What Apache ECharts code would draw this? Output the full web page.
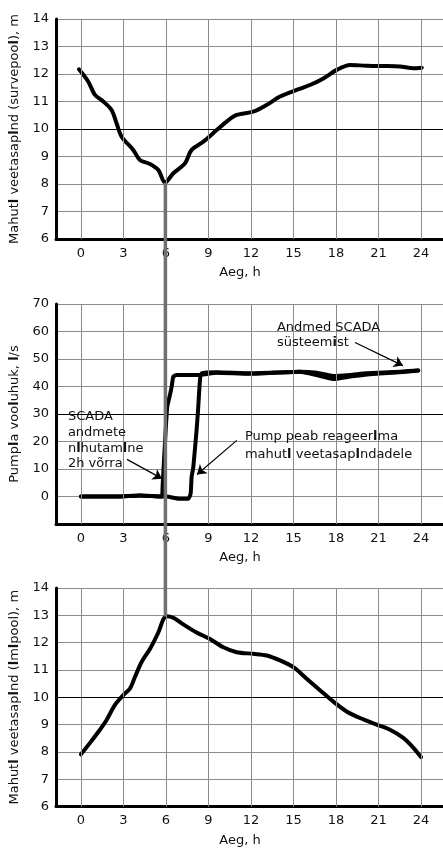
<!DOCTYPE html>
<html><head><meta charset="utf-8">
<script src="https://cdn.jsdelivr.net/npm/echarts@6/dist/echarts.min.js"></script>
<style>html,body{margin:0;padding:0;background:#fff}#c{width:443px;height:848px}</style>
</head><body><div id="c"></div>
<script>
// ---- data ----
const xTicks = [0, 3, 6, 9, 12, 15, 18, 21, 24];
const xTitle = 'Aeg, h';

const topHours = [-0.14,0.52,0.99,1.58,2.16,2.52,2.87,3.69,4.16,4.87,5.46,5.93,6.52,7.34,7.81,8.64,9.58,10.28,10.99,12.16,13.09,14.05,15.22,16.16,17.11,18.05,18.99,20.16,21.34,22.52,23.46,24.05];
const topLevels = [12.17,11.72,11.24,11.0,10.69,10.2,9.72,9.24,8.87,8.73,8.51,8.05,8.39,8.75,9.24,9.54,9.96,10.27,10.51,10.63,10.87,11.18,11.42,11.6,11.84,12.15,12.33,12.3,12.29,12.27,12.21,12.23];

const shiftHours = [0,2.52,4.16,5.69,5.76,5.86,5.98,6.09,6.28,6.4,6.52,6.75,8.4,9.58,11.9,15.46,16.6,17.8,19,20.2,22.5,23.8];
const shiftFlow = [0,0,0.4,0,3.4,13.1,24.1,32.6,36.9,39.9,43.6,44.2,44.2,45,44.6,45.4,44.2,42.7,43.6,44.4,45.2,45.8];

const pumpHours = [0,2.52,4.16,5.69,6.05,6.99,7.58,7.74,7.81,7.93,8.16,8.28,8.4,8.52,9.58,11.93,15.46,16.64,17.81,19,20.16,22.52,23.81];
const pumpFlow = [0,0,0.4,0,0,-0.85,-0.85,1,7.1,10.7,24.1,32.6,42.4,44.8,45.2,44.8,45.4,45,43.8,44.2,44.8,45.4,45.8];

const botHours = [0,0.64,1.34,1.81,2.4,2.99,3.46,3.81,4.28,4.87,5.46,5.81,6.05,6.52,7.22,8.16,9.11,10.05,10.99,12.16,13.11,14.05,14.99,15.93,16.87,17.81,18.75,19.69,20.87,21.81,22.75,23.46,24];
const botLevels = [7.91,8.33,8.81,9.17,9.72,10.08,10.32,10.74,11.29,11.77,12.37,12.85,12.97,12.91,12.67,12.37,12.13,11.83,11.65,11.59,11.53,11.35,11.1,10.68,10.26,9.84,9.48,9.24,9.0,8.81,8.51,8.15,7.81];

const topTitle = 'Mahut{b|l} veetasap{b|l}nd (survepoo{b|l}), m';
const midTitle = 'Pump{b|l}a voo{b|l}uhuk, {b|l}/s';
const botTitle = 'Mahut{b|l} veetasap{b|l}nd ({b|l}m{b|l}pool), m';

const darkLines = [10, 30, 10];

const noteLines = [
  ['SCADA', 'andmete', 'n{b|l}hutam{b|l}ne', '2h võrra'],
  ['Pump peab reageer{b|l}ma', 'mahut{b|l} veetasap{b|l}ndadele'],
  ['Andmed SCADA', 'süsteem{b|i}st']
];
const noteAnchors = [[-0.92, 29.0], [11.57, 21.8], [13.83, 61.5]];
const noteSpacing = [15.7, 18, 15];
const arrows = [
  [[3.25, 13.5], [5.72, 6.5]],
  [[11.0, 20.4], [8.19, 8.0]],
  [[19.34, 56], [22.72, 47.6]]
];

const connectorHour = 5.96, connectorTop = 8.05, connectorBottom = 12.96;

// ---- chart ----
const FONT = 'DejaVu Sans';
const zip = (a, b) => a.map((v, i) => [v, b[i]]);
const grids = [
  {left: 56, right: 0, top: 19, height: 220},
  {left: 56, right: 0, top: 304, height: 220},
  {left: 56, right: 0, top: 588, height: 220}
];
function xAxis(i) {
  return {
    type: 'value', gridIndex: i, min: -1.76, max: 25.55,
    name: xTitle, nameLocation: 'middle', nameGap: 27.5,
    nameTextStyle: {fontFamily: FONT, fontSize: 13, color: '#111', padding: [0, 19, 0, 0]},
    axisLine: {show: true, onZero: false, lineStyle: {color: '#000', width: 3}},
    axisTick: {show: false, customValues: xTicks},
    axisLabel: {customValues: xTicks, fontFamily: FONT, fontSize: 13, color: '#111', margin: 8},
    splitLine: {show: false}
  };
}
function yAxis(i, min, max, step, title) {
  return {
    type: 'value', gridIndex: i, min: min, max: max, interval: step,
    name: title, nameLocation: 'middle', nameGap: 32,
    nameTextStyle: {fontFamily: FONT, fontSize: 13, color: '#111',
      rich: {b: {fontFamily: FONT, fontSize: 13, fontWeight: 'bold', color: '#111'}}},
    axisLine: {show: true, onZero: false, lineStyle: {color: '#000', width: 3}},
    axisTick: {show: false},
    axisLabel: {fontFamily: FONT, fontSize: 13, color: '#111', margin: 7,
      formatter: v => (i === 1 && v < 0) ? '' : String(v)},
    splitLine: {show: true, lineStyle: {color: '#8c8c8c', width: 1}}
  };
}
const lineStyle = {color: '#000', width: 4, cap: 'round', join: 'round'};
function gridSeries(i) {
  return {type: 'line', xAxisIndex: i, yAxisIndex: i, data: [], z: 1, silent: true,
    markLine: {silent: true, symbol: 'none', label: {show: false}, animation: false,
      data: xTicks.map(v => ({xAxis: v, lineStyle: {color: '#8c8c8c', width: 1, type: 'solid'}}))
        .concat([{yAxis: darkLines[i], lineStyle: {color: '#000', width: 1, type: 'solid'}}])}};
}
const option = {
  animation: false,
  backgroundColor: '#fff',
  grid: grids,
  xAxis: [xAxis(0), xAxis(1), xAxis(2)],
  yAxis: [yAxis(0, 6, 14, 1, topTitle), yAxis(1, -10, 70, 10, midTitle), yAxis(2, 6, 14, 1, botTitle)],
  series: [
    gridSeries(0), gridSeries(1), gridSeries(2),
    {type: 'line', xAxisIndex: 0, yAxisIndex: 0, data: zip(topHours, topLevels), showSymbol: false,
      smooth: 0.3, lineStyle, z: 3},
    {type: 'line', xAxisIndex: 1, yAxisIndex: 1, data: zip(shiftHours, shiftFlow), showSymbol: false,
      smooth: 0.15, lineStyle, z: 3},
    {type: 'line', xAxisIndex: 1, yAxisIndex: 1, data: zip(pumpHours, pumpFlow), showSymbol: false,
      smooth: 0.15, lineStyle, z: 3,
      markLine: {silent: true, symbol: ['none', 'arrow'], symbolSize: 9, label: {show: false},
        lineStyle: {color: '#000', width: 1.2, type: 'solid'},
        data: arrows.map(a => [{coord: a[0]}, {coord: a[1]}])}},
    {type: 'line', xAxisIndex: 2, yAxisIndex: 2, data: zip(botHours, botLevels), showSymbol: false,
      smooth: 0.3, lineStyle, z: 3}
  ]
};
const chart = echarts.init(document.getElementById('c'), null, {renderer: 'canvas'});
chart.setOption(option);
const p1 = chart.convertToPixel({gridIndex: 0}, [connectorHour, connectorTop]);
const p2 = chart.convertToPixel({gridIndex: 2}, [connectorHour, connectorBottom]);
const graphics = [{type: 'line', z: 10, shape: {x1: p1[0], y1: p1[1], x2: p2[0], y2: p2[1]},
  style: {stroke: '#707070', lineWidth: 3.5}}];
noteLines.forEach((lines, k) => {
  const a = chart.convertToPixel({gridIndex: 1}, noteAnchors[k]);
  lines.forEach((t, j) => {
    graphics.push({type: 'text', z: 12, x: a[0], y: a[1] + j * noteSpacing[k],
      style: {text: t, fill: '#111', font: '13px "' + FONT + '"', align: 'left', verticalAlign: 'middle',
        rich: {b: {fontFamily: FONT, fontSize: 13, fontWeight: 'bold', fill: '#111'}}}});
  });
});
chart.setOption({graphic: graphics});
</script>
</body></html>
